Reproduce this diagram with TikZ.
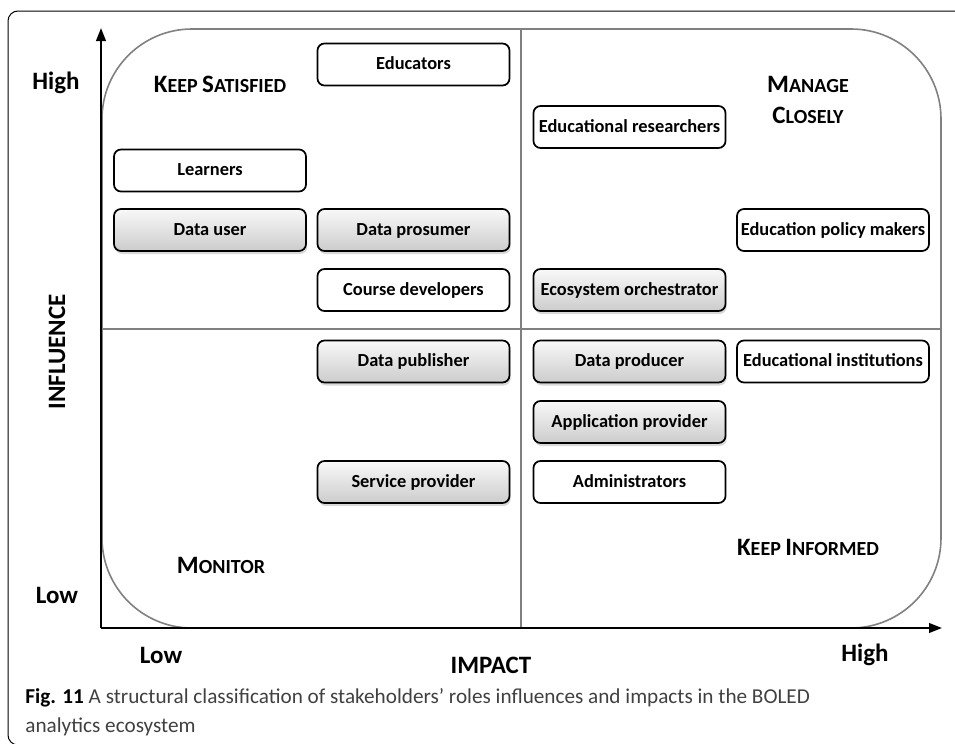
\documentclass[tikz,border=0pt]{standalone}
\usepackage{fontspec}
\setmainfont{Carlito}
\usepackage{tikz}
\usetikzlibrary{shadows,arrows.meta}

\newcommand{\qcap}[2]{{\fontsize{12.5}{15}\selectfont #1}{\fontsize{10}{12}\selectfont #2}}

\begin{document}
\begin{tikzpicture}[x=0.5pt,y=-0.5pt,>={Triangle[length=6.5pt,width=4.8pt]},
    role/.style={draw=black,line width=0.85pt,rounded corners=3.5pt,
      minimum width=96pt,minimum height=21pt,inner sep=0pt,
      text height=1.45ex,text depth=0.35ex,
      font=\bfseries\fontsize{9.2}{11}\selectfont},
    plain/.style={role,fill=white},
    shaded/.style={role,top color=gray!5,bottom color=gray!40,
      drop shadow={shadow xshift=0.6pt,shadow yshift=-1.5pt,opacity=0.3}},
    axislabel/.style={font=\bfseries\fontsize{12.5}{15}\selectfont},
    quadrant/.style={font=\bfseries,align=center},
    quadline/.style={draw=black!50,line width=0.8pt},
    axis/.style={line width=1.1pt}
  ]
    \useasboundingbox (0,0) rectangle (955,744);
    \clip (0,0) rectangle (955,744);

    \draw[line width=0.5pt,rounded corners=5pt] (1000,11) -- (8,11) -- (8,745) -- (60,745);

    \draw[quadline,rounded corners=45pt] (102,29) rectangle (941,628);
    \draw[quadline] (101,329) -- (941,329)
                    (521,29) -- (521,628);

    \coordinate (origin) at (101,628);
    \coordinate (ytip) at (101,28);
    \coordinate (xtip) at (942,628);
    \draw[axis,->] (origin) -- (ytip);
    \draw[axis,->] (origin) -- (xtip);

    \node[axislabel] (yhigh) at (56,83) {High};
    \node[axislabel] (ylow) at (57,595) {Low};
    \node[axislabel,rotate=90] (influence) at (57,352) {INFLUENCE};
    \node[axislabel] (xlow) at (161,655) {Low};
    \node[axislabel] (impact) at (491,665) {IMPACT};
    \node[axislabel] (xhigh) at (865,655) {High};

    \node[quadrant] (satisfied) at (220,84) {\qcap{K}{EEP} \qcap{S}{ATISFIED}};
    \node[quadrant] (closely) at (808,99.5) {\qcap{M}{ANAGE}\\[3.5pt]\qcap{C}{LOSELY}};
    \node[quadrant] (informed) at (808,547) {\qcap{K}{EEP} \qcap{I}{NFORMED}};
    \node[quadrant] (monitor) at (221,565) {\qcap{M}{ONITOR}};

    \node[plain] (educators) at (413.5,64.5) {Educators};
    \node[plain] (learners) at (210,170.5) {Learners};
    \node[shaded] (datauser) at (210,230) {Data user};
    \node[shaded] (prosumer) at (413.5,230) {Data prosumer};
    \node[plain] (coursedev) at (413.5,290) {Course developers};
    \node[shaded] (publisher) at (413.5,361.5) {Data publisher};
    \node[shaded] (serviceprov) at (413.5,482) {Service provider};
    \node[plain] (researchers) at (629.5,127) {Educational researchers};
    \node[shaded] (orchestrator) at (629.5,290) {Ecosystem orchestrator};
    \node[shaded] (producer) at (629.5,361.5) {Data producer};
    \node[shaded] (appprov) at (629.5,422) {Application provider};
    \node[plain] (admins) at (629.5,482) {Administrators};
    \node[plain] (policy) at (833,230) {Education policy makers};
    \node[plain] (institutions) at (833,361.5) {Educational institutions};

    \node[anchor=north west,inner sep=0pt,align=left,text=black!75,
      font=\fontsize{10.6}{14.5}\selectfont] (caption) at (25,688)
      {{\color{black}\bfseries Fig. 11} A structural classification of stakeholders’ roles influences and impacts in the BOLED\\analytics ecosystem};
\end{tikzpicture}
\end{document}
